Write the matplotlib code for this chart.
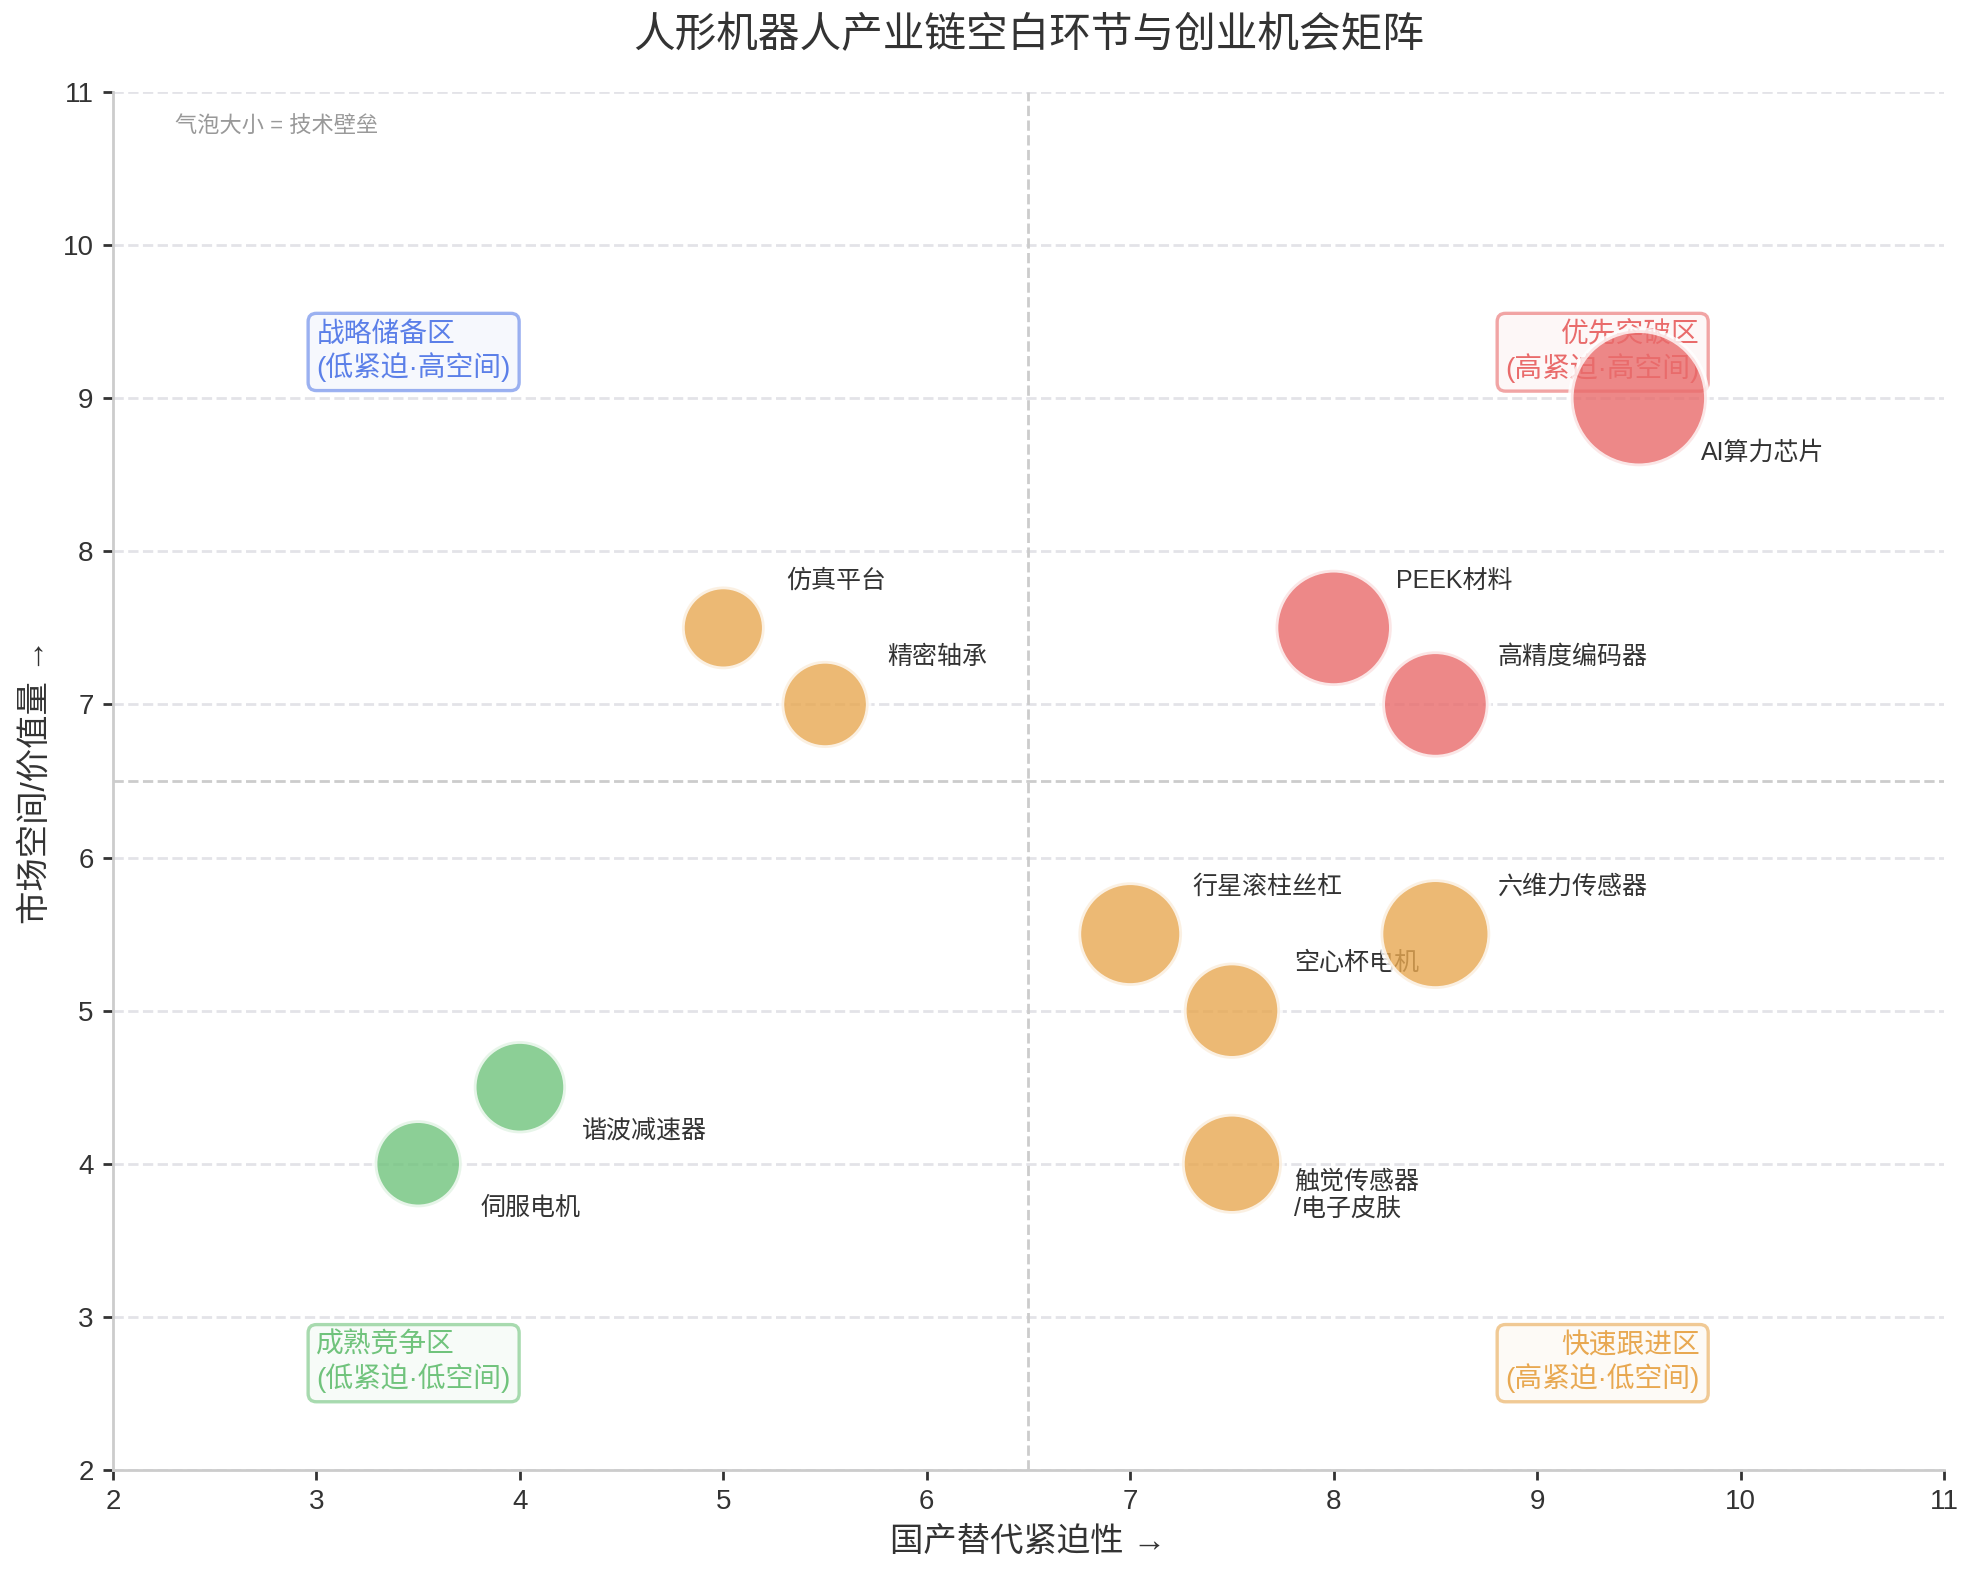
import matplotlib
matplotlib.use("Agg")
import matplotlib.pyplot as plt
from matplotlib.colors import to_rgba

plt.rcParams['font.family'] = ['Liberation Sans', 'Noto Sans CJK SC', 'DejaVu Sans']
plt.rcParams['axes.unicode_minus'] = False

# ---- data ----
names = ["AI算力芯片", "PEEK材料", "高精度编码器", "仿真平台", "精密轴承", "行星滚柱丝杠",
         "六维力传感器", "空心杯电机", "触觉传感器\n/电子皮肤", "谐波减速器", "伺服电机"]
urgency = [9.5, 8.0, 8.5, 5.0, 5.5, 7.0, 8.5, 7.5, 7.5, 4.0, 3.5]
market = [9.0, 7.5, 7.0, 7.5, 7.0, 5.5, 5.5, 5.0, 4.0, 4.5, 4.0]
barrier = [10, 7.3, 6.1, 3.7, 4.1, 5.8, 6.5, 5.0, 5.4, 4.6, 4.1]
level = ["high", "high", "high", "mid", "mid", "mid", "mid", "mid", "mid", "low", "low"]

quad_labels = ["优先突破区\n(高紧迫·高空间)", "战略储备区\n(低紧迫·高空间)",
               "成熟竞争区\n(低紧迫·低空间)", "快速跟进区\n(高紧迫·低空间)"]

# ---- styles ----
level_colors = {"high": "#E96B6B", "mid": "#E8A851", "low": "#70C37C"}
quad_colors = ["#E96B6B", "#5B7FE8", "#70C37C", "#E8A851"]
quad_pos = [(9.8, 9.5, "right", "top"), (3.0, 9.5, "left", "top"),
            (3.0, 2.5, "left", "bottom"), (9.8, 2.5, "right", "bottom")]
label_offsets = [(22.5, -19.5), (22.5, 17), (22.5, 17), (22.5, 17), (22.5, 17), (22.5, 17),
                 (22.5, 17), (22.5, 17), (22.5, -11.5), (22.5, -16), (22.5, -16)]
SIZE_SCALE = 240

fig = plt.figure(figsize=(1979 / 200, 1578 / 200), dpi=200)
ax = fig.add_axes([113 / 1979, 1 - 1470 / 1578, 1831 / 1979, 1378 / 1578])

ax.scatter(urgency, market, s=[b * SIZE_SCALE for b in barrier],
           c=[level_colors[l] for l in level], alpha=0.8,
           edgecolors="white", linewidths=2, zorder=3)

for name, x, y, off in zip(names, urgency, market, label_offsets):
    ax.annotate(name, (x, y), xytext=off, textcoords="offset points",
                ha="left", va="center", fontsize=9, color="#333333", zorder=2)

# quadrant dividers
ax.axvline(6.5, color="#CCCCCC", linestyle="--", linewidth=1, zorder=1)
ax.axhline(6.5, color="#CCCCCC", linestyle="--", linewidth=1, zorder=1)

for txt, (qx, qy, ha, va), col in zip(quad_labels, quad_pos, quad_colors):
    ax.text(qx, qy, txt, ha=ha, va=va, fontsize=10, color=col, zorder=2,
            bbox=dict(boxstyle="round,pad=0.3", facecolor=to_rgba(col, 0.05),
                      edgecolor=to_rgba(col, 0.6), linewidth=1.2))

ax.text(0.034, 0.982, "气泡大小 = 技术壁垒", transform=ax.transAxes,
        ha="left", va="top", fontsize=8, color="#999999")

ax.set_xlim(2, 11)
ax.set_ylim(2, 11)
ax.set_xticks(range(2, 12))
ax.set_yticks(range(2, 12))
ax.yaxis.grid(True, linestyle="--", color="#E3E3E8", linewidth=1)
ax.set_axisbelow(True)

for side in ["top", "right"]:
    ax.spines[side].set_visible(False)
for side in ["left", "bottom"]:
    ax.spines[side].set_color("#CCCCCC")
    ax.spines[side].set_linewidth(1.0)
ax.tick_params(colors="#333333", labelsize=10, length=3.5, width=1)

ax.set_xlabel("国产替代紧迫性 →", fontsize=12, color="#333333")
ax.set_ylabel("市场空间/价值量 →", fontsize=12, color="#333333")
fig.text((113 + 1944) / 2 / 1979, 1 - 36 / 1578, "人形机器人产业链空白环节与创业机会矩阵",
         ha="center", va="center", fontsize=15, color="#333333")

fig.savefig("out.png", dpi=200)
